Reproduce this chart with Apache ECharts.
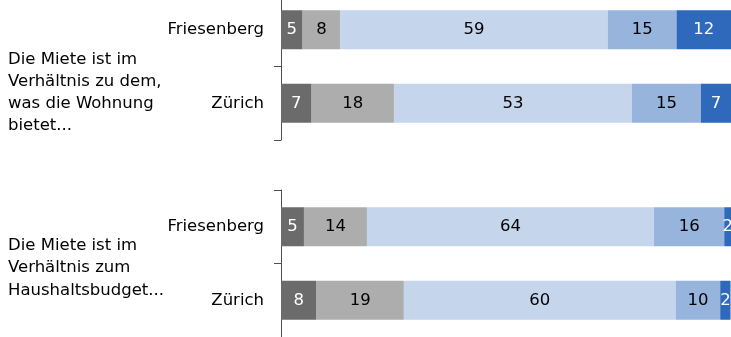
<!DOCTYPE html>
<html>
<head>
<meta charset="utf-8">
<script src="https://cdn.jsdelivr.net/npm/echarts@6/dist/echarts.min.js"></script>
<style>html,body{margin:0;padding:0;background:#fff;overflow:hidden}#c{width:731px;height:344px;margin-top:-7px}</style>
</head>
<body>
<div id="c"></div>
<script>
// Categories and group titles
const categories = ['Friesenberg', 'Zürich'];
const groupTitles = [
  'Die Miete ist im\nVerhältnis zu dem,\nwas die Wohnung\nbietet...',
  'Die Miete ist im\nVerhältnis zum\nHaushaltsbudget...'
];
// Panel 1: "zu dem, was die Wohnung bietet" (segments 1..5, values in %)
const p1s1 = [4.8, 6.8];
const p1s2 = [8.4, 18.3];
const p1s3 = [59.4, 52.9];
const p1s4 = [15.3, 15.3];
const p1s5 = [12.1, 6.7];
// Panel 2: "zum Haushaltsbudget"
const p2s1 = [5.1, 7.9];
const p2s2 = [14.0, 19.4];
const p2s3 = [63.8, 60.4];
const p2s4 = [15.6, 9.9];
const p2s5 = [1.5, 2.3];

const colors = ['#6b6b6b', '#adadad', '#c5d5ec', '#97b4dc', '#2f69bc'];
const labelColors = ['#ffffff', '#000000', '#000000', '#000000', '#ffffff'];
const FONT = 'DejaVu Sans';
const FS = 16.5;

function mkSeries(data, idx, panel) {
  return {
    type: 'bar', stack: 'p' + panel, xAxisIndex: panel, yAxisIndex: panel,
    data: data, barWidth: 39,
    itemStyle: { color: colors[idx] },
    label: { show: true, position: 'inside', color: labelColors[idx], fontFamily: FONT, fontSize: FS,
      formatter: p => String(Math.round(p.value)) },
    emphasis: { disabled: true }, silent: true
  };
}

const chart = echarts.init(document.getElementById('c'), null, { renderer: 'canvas' });
const yAxisCommon = {
  type: 'category', data: categories, inverse: true,
  axisLine: { show: true, lineStyle: { color: '#505050', width: 1 } },
  axisTick: { show: true, length: 7, lineStyle: { color: '#505050' } },
  axisLabel: { color: '#000', fontFamily: FONT, fontSize: FS, margin: 17 }
};
// container is shifted up by 7px, so all y values below are page y + 7
chart.setOption({
  animation: false,
  grid: [
    { left: 281, top: 0, width: 450, height: 147 },
    { left: 281, top: 197, width: 450, height: 148 }
  ],
  xAxis: [
    { type: 'value', gridIndex: 0, min: 0, max: 100, show: false },
    { type: 'value', gridIndex: 1, min: 0, max: 100, show: false }
  ],
  yAxis: [
    Object.assign({ gridIndex: 0 }, yAxisCommon),
    Object.assign({ gridIndex: 1 }, yAxisCommon)
  ],
  graphic: [
    { type: 'text', left: 8, top: 56, style: { text: groupTitles[0], font: FS + 'px "' + FONT + '"', lineHeight: 22, fill: '#000' } },
    { type: 'text', left: 8, top: 241, style: { text: groupTitles[1], font: FS + 'px "' + FONT + '"', lineHeight: 22.5, fill: '#000' } }
  ],
  series: [
    mkSeries(p1s1, 0, 0), mkSeries(p1s2, 1, 0), mkSeries(p1s3, 2, 0), mkSeries(p1s4, 3, 0), mkSeries(p1s5, 4, 0),
    mkSeries(p2s1, 0, 1), mkSeries(p2s2, 1, 1), mkSeries(p2s3, 2, 1), mkSeries(p2s4, 3, 1), mkSeries(p2s5, 4, 1)
  ]
});
</script>
</body>
</html>
